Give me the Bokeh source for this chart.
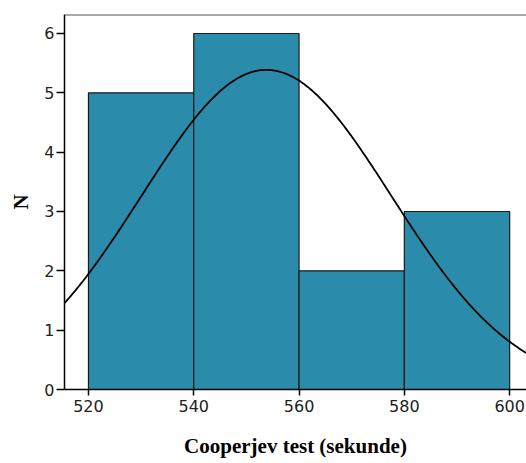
import numpy as np
from bokeh.plotting import figure
from bokeh.models import Range1d, FixedTicker, Span
from bokeh.embed import file_html
from bokeh.resources import INLINE

# Data
bin_left = [520, 540, 560, 580]
bin_right = [540, 560, 580, 600]
counts = [5, 6, 2, 3]
fit_mean = 553.8
fit_sd = 23.7
n_total = 16
bin_width = 20
x_ticks = [520, 540, 560, 580, 600]
y_ticks = [0, 1, 2, 3, 4, 5, 6]

p = figure(width=526, height=463, output_backend="svg", toolbar_location=None,
           x_range=Range1d(515.45, 603.2), y_range=Range1d(0, 6.32),
           min_border_left=64, min_border_right=0, min_border_top=14, min_border_bottom=74)
p.background_fill_color = "white"
p.border_fill_color = "white"
p.outline_line_color = None
p.grid.visible = False

p.quad(left=bin_left, right=bin_right, bottom=0, top=counts,
       fill_color="#2A8CAA", line_color="#1a1a1a", line_width=1.2)

xs = np.linspace(515.45, 603.2, 300)
ys = n_total * bin_width / (fit_sd * np.sqrt(2 * np.pi)) * np.exp(-0.5 * ((xs - fit_mean) / fit_sd) ** 2)
p.line(xs, ys, line_color="black", line_width=1.8)

p.add_layout(Span(location=6.32, dimension="width", line_color="#555555", line_width=2))

for ax in (p.xaxis[0], p.yaxis[0]):
    ax.major_label_text_font = "DejaVu Sans"
    ax.major_label_text_font_size = "16px"
    ax.major_label_text_color = "#222222"
    ax.axis_line_color = "black"
    ax.axis_line_width = 1.5
    ax.major_tick_line_color = "black"
    ax.major_tick_line_width = 1.5
    ax.minor_tick_line_color = None
    ax.major_tick_in = 0
    ax.axis_label_text_font = "Liberation Serif"
    ax.axis_label_text_font_style = "bold"
    ax.axis_label_text_font_size = "21px"
    ax.axis_label_text_color = "black"

p.xaxis[0].ticker = FixedTicker(ticks=x_ticks)
p.yaxis[0].ticker = FixedTicker(ticks=y_ticks)
p.xaxis[0].major_tick_out = 6
p.yaxis[0].major_tick_out = 8
p.xaxis[0].major_label_standoff = 4
p.yaxis[0].major_label_standoff = 2
p.xaxis[0].axis_label = "Cooperjev test (sekunde)"
p.yaxis[0].axis_label = "N"
p.xaxis[0].axis_label_standoff = 19
p.yaxis[0].axis_label_standoff = 8

open("out.html", "w").write(file_html(p, INLINE))
